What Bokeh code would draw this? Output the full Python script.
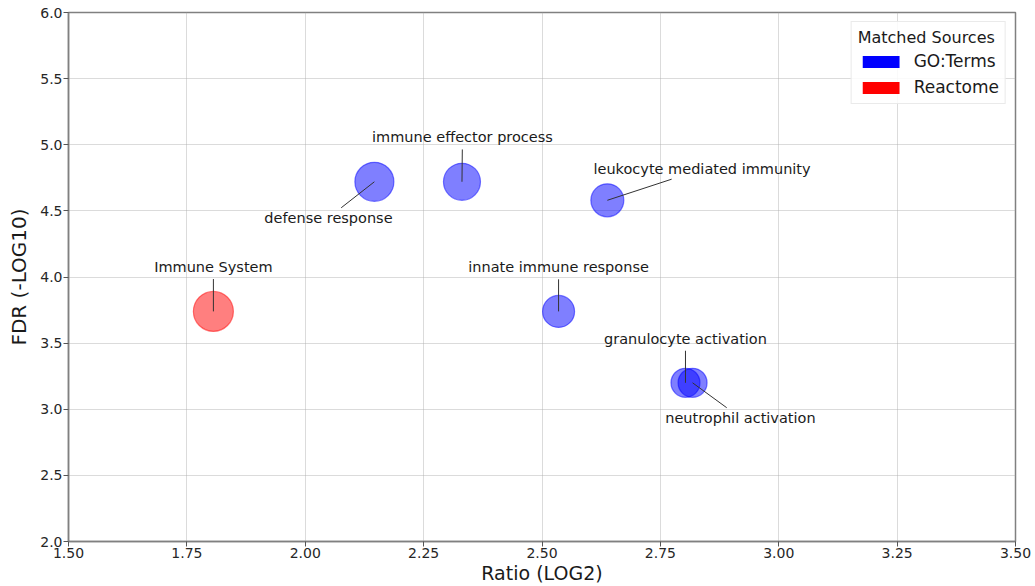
import math
from bokeh.plotting import figure
from bokeh.models import ColumnDataSource, FixedTicker, Legend, LegendItem
from bokeh.core.properties import value
from bokeh.embed import file_html
from bokeh.resources import INLINE

# ---- data -------------------------------------------------------------
terms = ["Immune System", "defense response", "immune effector process",
         "leukocyte mediated immunity", "innate immune response",
         "granulocyte activation", "neutrophil activation"]
sources = ["Reactome", "GO:Terms", "GO:Terms", "GO:Terms", "GO:Terms",
           "GO:Terms", "GO:Terms"]
ratio_log2 = [1.806, 2.146, 2.331, 2.638, 2.535, 2.803, 2.818]
fdr_log10 = [3.74, 4.72, 4.72, 4.58, 3.74, 3.20, 3.20]
term_size = [40, 39, 37, 33, 32, 29, 29]

x_ticks = [1.50, 1.75, 2.00, 2.25, 2.50, 2.75, 3.00, 3.25, 3.50]
x_tick_labels = ["1.50", "1.75", "2.00", "2.25", "2.50", "2.75", "3.00", "3.25", "3.50"]
y_ticks = [2.0, 2.5, 3.0, 3.5, 4.0, 4.5, 5.0, 5.5, 6.0]
y_tick_labels = ["2.0", "2.5", "3.0", "3.5", "4.0", "4.5", "5.0", "5.5", "6.0"]

source_names = ["GO:Terms", "Reactome"]
source_colors = ["#0000ff", "#ff0000"]

# label placement (offset of each annotation from its bubble, data units)
label_dx = [0.0, -0.097, 0.001, 0.200, 0.0, 0.0, 0.101]
label_dy = [0.335, -0.272, 0.335, 0.235, 0.333, 0.333, -0.264]

# ---- figure -----------------------------------------------------------
FONT = "DejaVu Sans"
W, H = 1035, 586
ML, MR, MT, MB = 68, 20, 12, 44
X0, X1, Y0, Y1 = 1.5, 3.5, 2.0, 6.0

p = figure(width=W, height=H, x_range=(X0, X1), y_range=(Y0, Y1),
           output_backend="svg", toolbar_location=None,
           min_border_left=ML, min_border_right=MR,
           min_border_top=MT, min_border_bottom=MB,
           background_fill_color="white", border_fill_color="white")

p.outline_line_color = "#808080"
p.outline_line_width = 1.5

for ax, ticks, labels in ((p.xaxis[0], x_ticks, x_tick_labels),
                          (p.yaxis[0], y_ticks, y_tick_labels)):
    ax.ticker = FixedTicker(ticks=ticks)
    ax.major_label_overrides = {t: l for t, l in zip(ticks, labels)}
    ax.minor_tick_line_color = None
    ax.major_tick_in = 0
    ax.major_tick_out = 5
    ax.major_tick_line_color = "#555555"
    ax.axis_line_color = "#808080"
    ax.axis_line_width = 1.5
    ax.major_label_text_font = FONT
    ax.major_label_text_font_size = "14px"
    ax.major_label_text_color = "#262626"
    ax.major_label_standoff = 1
    ax.axis_label_text_font = FONT
    ax.axis_label_text_font_style = "normal"
    ax.axis_label_text_color = "#1a1a1a"
    ax.axis_label_standoff = 1

p.xaxis.axis_label = "Ratio (LOG2)"
p.xaxis.axis_label_text_font_size = "19px"
p.yaxis.axis_label = "FDR (-LOG10)"
p.yaxis.axis_label_text_font_size = "20px"
p.yaxis.axis_label_standoff = 6

p.grid.grid_line_color = "#b0b0b0"
p.grid.grid_line_alpha = 0.45
p.grid.grid_line_width = 1
p.xgrid.ticker = FixedTicker(ticks=x_ticks)
p.ygrid.ticker = FixedTicker(ticks=y_ticks)

# ---- bubbles ----------------------------------------------------------
color_of = dict(zip(source_names, source_colors))
src = ColumnDataSource(dict(
    x=ratio_log2, y=fdr_log10, size=term_size,
    color=[color_of[s] for s in sources], term=terms))
p.scatter("x", "y", size="size", source=src, fill_color="color",
          fill_alpha=0.5, line_color="color", line_alpha=0.5, line_width=1.2)

# ---- labels and leader lines -----------------------------------------
fw = W - ML - MR
fh = H - MT - MB
px_x = fw / (X1 - X0)
px_y = fh / (Y1 - Y0)
font_px = 14.5

lx, ly, sx, sy, ex, ey = [], [], [], [], [], []
for xi, yi, dx, dy, t in zip(ratio_log2, fdr_log10, label_dx, label_dy, terms):
    cx, cy = xi + dx, yi + dy
    lx.append(cx)
    ly.append(cy)
    vx, vy = -dx * px_x, -dy * px_y
    half_w = len(t) * font_px * 0.29
    half_h = 12.0 if abs(dx) < 0.01 else 10.0
    tvals = []
    if abs(vx) > 1e-9:
        tvals.append(half_w / abs(vx))
    if abs(vy) > 1e-9:
        tvals.append(half_h / abs(vy))
    tt = min(tvals + [1.0])
    sx.append(cx - dx * tt)
    sy.append(cy - dy * tt)
    ex.append(xi)
    ey.append(yi)

p.segment(x0=sx, y0=sy, x1=ex, y1=ey, line_color="#333333", line_width=1)
p.text(x=lx, y=ly, text=terms, text_font=value(FONT),
       text_font_size="14.5px", text_color="#1a1a1a",
       text_align="center", text_baseline="middle")

# ---- legend -----------------------------------------------------------
nan = float("nan")
items = []
for name, col in zip(source_names, source_colors):
    r = p.quad(left=[nan], right=[nan], top=[nan], bottom=[nan],
               fill_color=col, fill_alpha=1.0, line_color=None)
    items.append(LegendItem(label=name, renderers=[r]))

legend = Legend(items=items, location="top_right",
                title="Matched Sources", title_text_font=FONT,
                title_text_font_size="16px", title_text_font_style="normal",
                title_text_color="#1a1a1a", title_standoff=4,
                label_text_font=FONT, label_text_font_size="17px",
                label_text_color="#1a1a1a", label_standoff=10,
                glyph_width=46, glyph_height=15, label_height=20,
                spacing=6, padding=6, margin=9,
                border_line_color="#d6d6d6", border_line_width=1,
                background_fill_alpha=0.85)
p.add_layout(legend, "center")

open("out.html", "w").write(file_html(p, INLINE))
